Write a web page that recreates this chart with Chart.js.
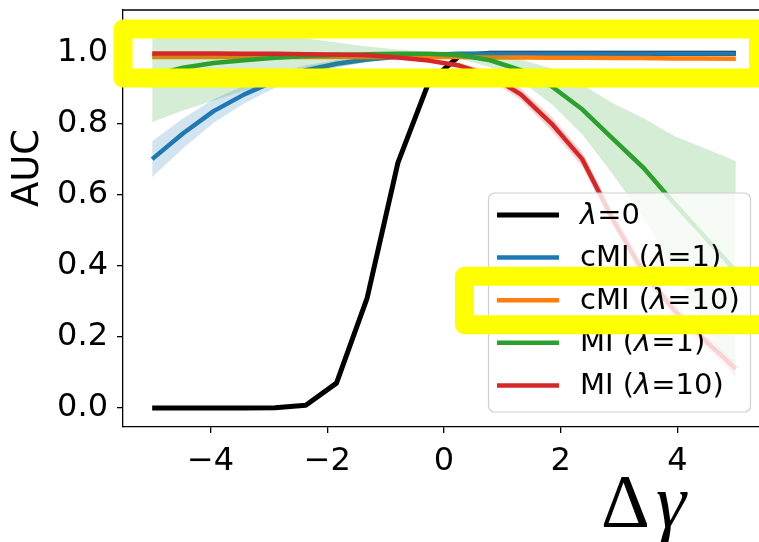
<!DOCTYPE html>
<html><head><meta charset="utf-8">
<script src="https://cdn.jsdelivr.net/npm/chart.js@4.4.1/dist/chart.umd.min.js"></script>
<style>
html,body{margin:0;padding:0;overflow:hidden;background:#fff;width:759px;height:542px}
#wrap{position:absolute;left:0;top:0;width:800px;height:542px}
canvas{display:block}
</style>
</head><body><div id="wrap"><canvas id="c" width="800" height="542"></canvas></div>
<script>
// ---------- data ----------
const deltaGamma = [-5, -4.474, -3.947, -3.421, -2.895, -2.368, -1.842, -1.316, -0.789, -0.263,
                    0.263, 0.789, 1.316, 1.842, 2.368, 2.895, 3.421, 3.947, 4.474, 5];
const aucLambda0 = [0, 0, 0, 0, 0.001, 0.008, 0.07, 0.31, 0.69, 0.915,
                    0.99, 0.998, 0.998, 0.998, 0.998, 0.998, 0.998, 0.998, 0.998, 0.998];
const aucCmi1    = [0.70, 0.772, 0.835, 0.882, 0.92, 0.95, 0.968, 0.98, 0.988, 0.993,
                    0.996, 0.997, 0.997, 0.997, 0.997, 0.997, 0.997, 0.997, 0.997, 0.997];
const aucCmi1Err = [0.05, 0.042, 0.033, 0.025, 0.019, 0.014, 0.01, 0.007, 0.005, 0.004,
                    0.003, 0.003, 0.003, 0.003, 0.003, 0.003, 0.003, 0.003, 0.003, 0.003];
const aucCmi10   = [0.987, 0.987, 0.987, 0.987, 0.987, 0.987, 0.987, 0.987, 0.987, 0.987,
                    0.987, 0.986, 0.986, 0.985, 0.985, 0.984, 0.984, 0.983, 0.983, 0.982];
const aucCmi10Err= [0.004, 0.004, 0.004, 0.004, 0.004, 0.004, 0.004, 0.004, 0.004, 0.004,
                    0.004, 0.004, 0.005, 0.005, 0.005, 0.005, 0.006, 0.006, 0.006, 0.006];
const aucMi1     = [0.935, 0.957, 0.97, 0.978, 0.985, 0.99, 0.993, 0.995, 0.996, 0.996,
                    0.993, 0.978, 0.95, 0.905, 0.84, 0.757, 0.675, 0.575, 0.48, 0.385];
const aucMi1Err  = [0.131, 0.12, 0.105, 0.085, 0.068, 0.05, 0.035, 0.022, 0.012, 0.006,
                    0.01, 0.02, 0.03, 0.05, 0.07, 0.1, 0.14, 0.19, 0.25, 0.31];
const aucMi10    = [0.997, 0.997, 0.997, 0.996, 0.996, 0.995, 0.994, 0.992, 0.986, 0.977,
                    0.963, 0.935, 0.882, 0.80, 0.70, 0.53, 0.38, 0.275, 0.19, 0.11];
const aucMi10Err = [0.002, 0.002, 0.002, 0.002, 0.002, 0.002, 0.002, 0.003, 0.003, 0.005,
                    0.008, 0.012, 0.016, 0.02, 0.02, 0.02, 0.02, 0.02, 0.02, 0.02];
const xTickValues = [-4, -2, 0, 2, 4];
const yTickValues = [0, 0.2, 0.4, 0.6, 0.8, 1.0];
const seriesLabels = ['λ=0', 'cMI (λ=1)', 'cMI (λ=10)', 'MI (λ=1)', 'MI (λ=10)'];
const seriesColors = ['#000000', '#1f77b4', '#ff7f0e', '#2ca02c', '#d62728'];
const xLabel = ['Δ', 'γ'];
const yLabel = 'AUC';

// ---------- build datasets ----------
function pts(vals) { return deltaGamma.map((x, i) => ({x: x, y: vals[i]})); }
function rgba(hex, a) {
  const n = parseInt(hex.slice(1), 16);
  return `rgba(${(n>>16)&255},${(n>>8)&255},${n&255},${a})`;
}
const series = [
  {vals: aucLambda0, err: null},
  {vals: aucCmi1, err: aucCmi1Err},
  {vals: aucCmi10, err: aucCmi10Err},
  {vals: aucMi1, err: aucMi1Err},
  {vals: aucMi10, err: aucMi10Err},
];
const datasets = [];
let z = 0;
series.forEach((s, k) => {
  const col = seriesColors[k];
  if (s.err) {
    datasets.push({ data: pts(s.vals.map((v, i) => v - s.err[i])), borderWidth: 0, pointRadius: 0,
      borderColor: 'rgba(0,0,0,0)', fill: false, tension: 0, order: 100 - (z++) });
    datasets.push({ data: pts(s.vals.map((v, i) => v + s.err[i])), borderWidth: 0, pointRadius: 0,
      borderColor: 'rgba(0,0,0,0)', backgroundColor: rgba(col, 0.2), fill: '-1', tension: 0, order: 100 - (z++) });
  }
  datasets.push({ label: seriesLabels[k], data: pts(s.vals), borderColor: col, borderWidth: k === 0 ? 5 : 4.5,
    pointRadius: 0, fill: false, tension: 0, borderCapStyle: 'butt', borderJoinStyle: 'round', order: 100 - (z++) });
});

const TICK_FONT = {family: 'DejaVu Sans', size: 32};

// ---------- overlay: spine, legend, labels, highlight boxes ----------
function drawRich(ctx, parts, x, y, size) {
  let cx = x;
  parts.forEach(p => {
    ctx.font = (p.i ? 'oblique ' : '') + size + 'px "DejaVu Sans"';
    ctx.fillText(p.t, cx, y);
    cx += ctx.measureText(p.t).width;
  });
}
function splitLabel(s) {
  const out = [];
  s.split(/(λ)/).forEach(t => { if (t) out.push({t: t, i: t === 'λ'}); });
  return out;
}
const legendGeom = {left: 488.5, top: 193, width: 262, height: 219, rowTop: 215, rowGap: 42.6};
const overlay = {
  id: 'overlay',
  afterDatasetsDraw(chart) {
    const {ctx, chartArea: a} = chart;
    ctx.save();
    ctx.strokeStyle = '#000'; ctx.lineWidth = 1.3;
    ctx.beginPath(); ctx.moveTo(a.left, a.top); ctx.lineTo(a.right, a.top); ctx.stroke();
    // legend
    const L = legendGeom;
    ctx.beginPath();
    ctx.roundRect(L.left, L.top, L.width, L.height, 6);
    ctx.fillStyle = 'rgba(255,255,255,0.8)'; ctx.fill();
    ctx.strokeStyle = '#d0d0d0'; ctx.lineWidth = 1.2; ctx.stroke();
    seriesLabels.forEach((lab, k) => {
      const yy = L.rowTop + k * L.rowGap;
      ctx.strokeStyle = seriesColors[k]; ctx.lineWidth = k === 0 ? 5 : 4.5;
      ctx.beginPath(); ctx.moveTo(L.left + 8.5, yy); ctx.lineTo(L.left + 70.5, yy); ctx.stroke();
      ctx.fillStyle = '#000'; ctx.textBaseline = 'middle'; ctx.textAlign = 'left';
      drawRich(ctx, splitLabel(lab), L.left + 91.5, yy + 1, 29);
    });
    ctx.restore();
  },
  afterDraw(chart) {
    const {ctx, scales: {x, y}} = chart;
    ctx.save();
    // axis labels
    ctx.fillStyle = '#000';
    ctx.save();
    ctx.translate(28.5, 168); ctx.rotate(-Math.PI / 2);
    ctx.font = '37px "DejaVu Sans"'; ctx.textAlign = 'center'; ctx.textBaseline = 'middle';
    ctx.fillText(yLabel, 0, 0);
    ctx.restore();
    ctx.textBaseline = 'alphabetic'; ctx.textAlign = 'left';
    ctx.font = '76px "Liberation Serif"';
    ctx.fillText(xLabel[0], 601, 527);
    ctx.font = 'italic 76px "Liberation Serif"';
    ctx.fillText(xLabel[1], 656, 527);
    // yellow highlight boxes
    ctx.strokeStyle = '#ffff00'; ctx.lineWidth = 19; ctx.lineJoin = 'round';
    const x0 = x.getPixelForValue(-5.5), x1 = x.getPixelForValue(5.39);
    const y0 = y.getPixelForValue(1.066), y1 = y.getPixelForValue(0.928);
    ctx.strokeRect(x0, y0, x1 - x0, y1 - y0);
    const L = legendGeom, ry = L.rowTop + 2 * L.rowGap;
    ctx.strokeRect(L.left - 24, ry - 24, 330, 48.5);
    ctx.restore();
  }
};

new Chart(document.getElementById('c'), {
  type: 'line',
  data: {datasets: datasets},
  plugins: [overlay],
  options: {
    responsive: false, animation: false, devicePixelRatio: 1,
    layout: {padding: {top: 10, right: 35, left: 0, bottom: 0}},
    plugins: {legend: {display: false}, tooltip: {enabled: false}, filler: {propagate: false}},
    scales: {
      x: {
        type: 'linear', min: -5.5, max: 5.5,
        afterFit(s) { s.height = 115; s.paddingLeft = 0; s.paddingRight = 0; },
        afterBuildTicks(s) { s.ticks = xTickValues.map(v => ({value: v})); },
        ticks: {font: TICK_FONT, color: '#000', padding: 9, maxRotation: 0,
          callback: v => (v < 0 ? '\u2212' + Math.abs(v) : '' + v)},
        grid: {drawOnChartArea: false, tickLength: 6, color: '#000', lineWidth: 1.3},
        border: {color: '#000', width: 1.3}
      },
      y: {
        type: 'linear', min: -0.0533, max: 1.1193,
        afterFit(s) { s.width = 123; s.paddingTop = 0; s.paddingBottom = 0; },
        afterBuildTicks(s) { s.ticks = yTickValues.map(v => ({value: v})); },
        ticks: {font: TICK_FONT, color: '#000', padding: 9, callback: v => v.toFixed(1)},
        grid: {drawOnChartArea: false, tickLength: 6, color: '#000', lineWidth: 1.3},
        border: {color: '#000', width: 1.3}
      }
    }
  }
});
</script>
</body></html>
